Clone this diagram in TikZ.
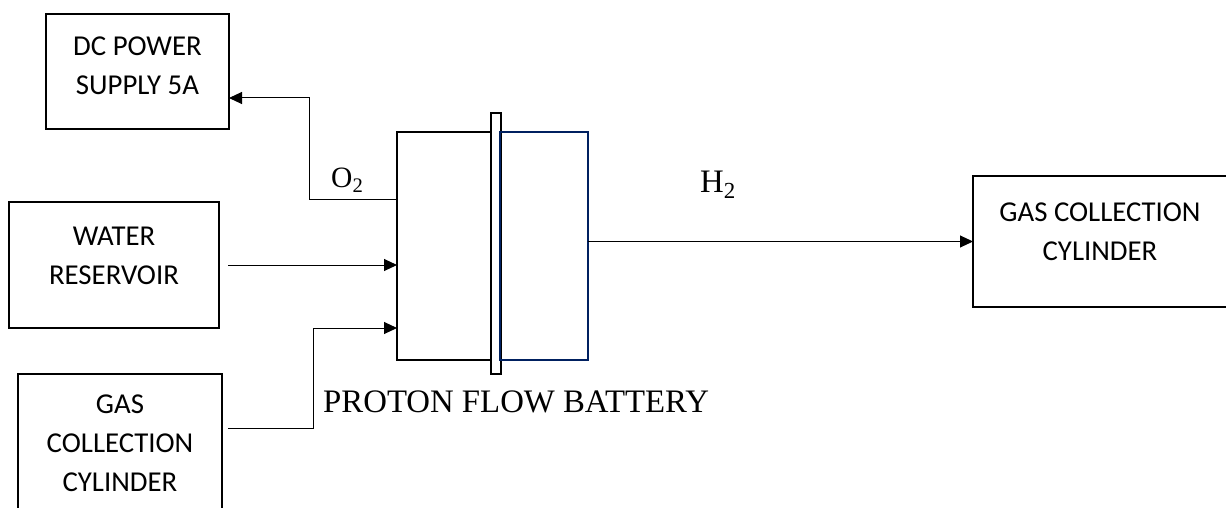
\documentclass[tikz,border=0pt]{standalone}
\usepackage{fontspec}
\setmainfont{Liberation Serif}
\newfontfamily\calibri{Carlito}
\usetikzlibrary{arrows.meta,calc}
\definecolor{navy}{RGB}{0,32,96}
\begin{document}
\begin{tikzpicture}[x=1pt,y=-1pt,
  box/.style={draw=black,line width=1.8pt,inner sep=0pt,outer sep=0pt},
  boxtext/.style={font=\calibri\fontsize{28.8}{39}\selectfont,align=center,inner sep=0pt},
  serif/.style={font=\fontsize{32.8}{38}\selectfont,inner sep=0pt,anchor=base west},
  conn/.style={line width=1pt},
  arr/.style={conn,-{Triangle[length=13pt,width=12pt]}}]
\useasboundingbox (0,0) rectangle (1226,508);
\clip (0,0) rectangle (1226,508);
% boxes
\node[box,minimum width=183pt,minimum height=115pt] (dc) at (137.5,71.5) {};
\node[box,minimum width=210pt,minimum height=126pt] (water) at (114,265) {};
\node[box,minimum width=204pt,minimum height=166pt] (gas) at (120,457) {};
\node[box,minimum width=272pt,minimum height=131pt] (rbox) at (1109,241.5) {};
% battery
\node[box,minimum width=94pt,minimum height=228pt] (batL) at (444,246) {};
\node[box,minimum width=10pt,minimum height=261pt] (mem) at (496,243.5) {};
\node[box,draw=navy,minimum width=88pt,minimum height=228pt] (batR) at (544,246) {};
% texts
\node[boxtext] (dct) at (137.5,66) {DC POWER\\SUPPLY 5A};
\node[boxtext] (wt) at (114,256) {WATER\\RESERVOIR};
\node[boxtext] (gt) at (120,443) {GAS\\COLLECTION\\CYLINDER};
\node[boxtext] (rt) at (1100,232) {GAS COLLECTION\\CYLINDER};
\node[serif,font=\fontsize{29.5}{34}\selectfont] (o2) at (331,187) {O\textsubscript{2}};
\node[serif] (h2) at (700,192) {H\textsubscript{2}};
\node[serif] (pfb) at (323,412) {PROTON FLOW BATTERY};
% connectors
\coordinate (o2b) at (309,199);
\draw[arr] (batL.west |- o2b) -- (o2b) |- ([yshift=-26.5pt]dc.east);
\draw[arr] ([xshift=9pt]water.east) -- (batL.west |- water.east);
\coordinate (gb) at (313,428);
\draw[arr] ($(gas.east |- gb)+(6,0)$) -- (gb) |- ([yshift=-82pt]batL.west);
\draw[arr] (batR.east |- rbox.west) -- (rbox.west);
\end{tikzpicture}
\end{document}
